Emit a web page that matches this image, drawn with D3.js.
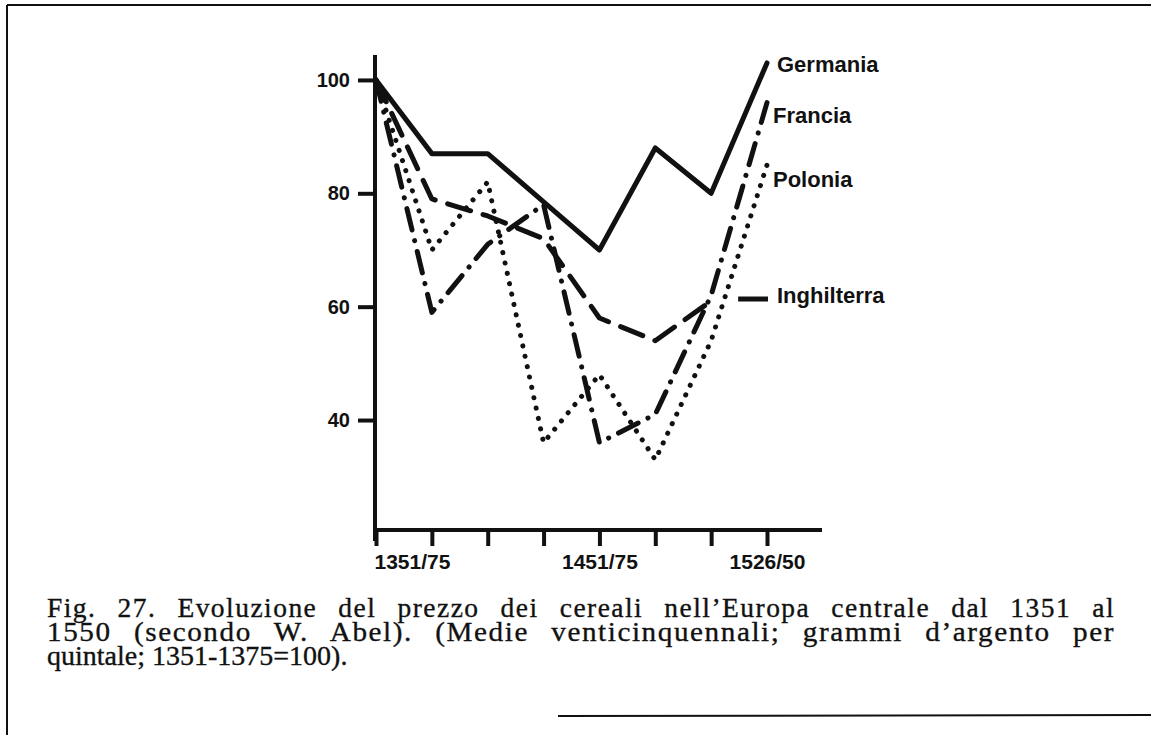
<!DOCTYPE html>
<html><head><meta charset="utf-8">
<script src="https://cdn.jsdelivr.net/npm/d3@7"></script>
<style>body{margin:0;background:#fff}svg{display:block}</style>
</head><body><svg id="c" width="1151" height="735"></svg>
<script>
// ---- data ----
const categories = ["1351/75","1376/1400","1401/25","1426/50","1451/75","1476/1500","1501/25","1526/50"];
const labeledCategories = ["1351/75","1451/75","1526/50"];
const yTicks = [40, 60, 80, 100];
const germania    = [100, 87, 87, 78.5, 70, 88, 80, 103];
const francia     = [100, 59, 71, 78, 36, 41, 62, 96];
const polonia     = [100, 70, 82, 36, 48, 33, 54, 85];
const inghilterra = [100, 79, 76, 72, 58, 54, 61, null];
const seriesNames = ["Germania", "Francia", "Polonia", "Inghilterra"];
const captionLines = [
  "Fig. 27. Evoluzione del prezzo dei cereali nell\u2019Europa centrale dal 1351 al",
  "1550 (secondo W. Abel). (Medie venticinquennali; grammi d\u2019argento per",
  "quintale; 1351-1375=100)."
];

// ---- layout ----
const svg = d3.select("#c");
svg.append("rect").attr("width",1151).attr("height",735).attr("fill","#fff");
const x = d3.scalePoint().domain(categories).range([376, 767]);
const y = d3.scaleLinear().domain([20.6, 104.4]).range([530, 55]);
const black = "#111";

// frame of the scanned page
const frame = svg.append("g").attr("stroke", black).attr("stroke-width", 2).attr("fill","none");
frame.append("line").attr("x1",7).attr("x2",7).attr("y1",5).attr("y2",735);
frame.append("line").attr("x1",7).attr("x2",1151).attr("y1",5).attr("y2",5);
frame.append("line").attr("x1",558).attr("x2",1151).attr("y1",716).attr("y2",715);

// y axis
const yAxis = svg.append("g").attr("transform","translate(375,0)")
  .call(d3.axisLeft(y).tickValues(yTicks).tickSize(17).tickSizeOuter(0).tickPadding(8));
yAxis.select(".domain").remove();
yAxis.append("line").attr("x1",0).attr("x2",0).attr("y1",y(104.4)).attr("y2",541)
  .attr("stroke",black).attr("stroke-width",4);
yAxis.selectAll(".tick line").attr("stroke",black).attr("stroke-width",4);
yAxis.selectAll(".tick text").attr("fill",black)
  .style("font-family","'Liberation Sans', Arial, sans-serif").style("font-weight","bold").style("font-size","20px");

// x axis
const xAxis = svg.append("g").attr("transform","translate(0,530)")
  .call(d3.axisBottom(x).tickSize(16).tickSizeOuter(0).tickPadding(8)
    .tickFormat(d => labeledCategories.includes(d) ? d : ""));
xAxis.select(".domain").remove();
xAxis.append("line").attr("x1",373).attr("x2",822).attr("y1",0).attr("y2",0)
  .attr("stroke",black).attr("stroke-width",4);
xAxis.selectAll(".tick line").attr("stroke",black).attr("stroke-width",4);
xAxis.selectAll(".tick text").attr("fill",black)
  .style("font-family","'Liberation Sans', Arial, sans-serif").style("font-weight","bold").style("font-size","21px")
  .attr("text-anchor", d => d === categories[0] ? "start" : "middle")
  .attr("dx", d => d === categories[0] ? -2 : 0);

// series
const line = d3.line().defined(d => d != null).x((d,i) => x(categories[i])).y(d => y(d));
const styles = [
  {data: germania,    dash: null,            cap: "round"},
  {data: francia,     dash: "22 11 0.1 11",  cap: "round"},
  {data: polonia,     dash: "0.1 10.5",      cap: "round"},
  {data: inghilterra, dash: "24 13",         cap: "round"}
];
styles.forEach(s => {
  svg.append("path").datum(s.data).attr("d", line)
    .attr("fill","none").attr("stroke",black).attr("stroke-width",5)
    .attr("stroke-linecap",s.cap).attr("stroke-linejoin","round")
    .attr("stroke-dasharray", s.dash);
});

// series labels
const labelOffsets = [
  {dx: 10, dy: 9,  anchorIndex: 7},
  {dx: 6,  dy: 20, anchorIndex: 7},
  {dx: 6,  dy: 22, anchorIndex: 7},
  {dx: 10, dy: 2,  anchorIndex: 7, leader: true}
];
const allSeries = [germania, francia, polonia, inghilterra];
seriesNames.forEach((name, k) => {
  const o = labelOffsets[k];
  const data = allSeries[k];
  let last = data.length - 1;
  while (data[last] == null) last--;
  const lx = x(categories[o.anchorIndex]) + o.dx;
  const ly = y(data[last]) + o.dy;
  if (o.leader) {
    svg.append("line").attr("x1", x(categories[last]) + 27).attr("x2", lx - 9)
      .attr("y1", y(data[last]) - 2).attr("y2", y(data[last]) - 2)
      .attr("stroke",black).attr("stroke-width",5);
  }
  svg.append("text").attr("x", lx).attr("y", ly).text(name).attr("fill",black)
    .style("font-family","'Liberation Sans', Arial, sans-serif").style("font-weight","bold").style("font-size","22px");
});

// caption (first two lines justified: some word/letter spacing, then slight glyph stretch)
const capY = [617, 641, 665];
const capWidth = 1068;
captionLines.forEach((t, i) => {
  const tx = svg.append("text").attr("x", 47).attr("y", capY[i]).text(t).attr("fill",black)
    .attr("stroke", black).attr("stroke-width", 0.35)
    .style("font-family","'Liberation Serif', 'Times New Roman', serif").style("font-size","28px");
  if (i < 2) {
    tx.style("word-spacing", "13px").style("letter-spacing", "1.5px");
    tx.attr("textLength", capWidth).attr("lengthAdjust", "spacingAndGlyphs");
  }
});
</script>
</body></html>
